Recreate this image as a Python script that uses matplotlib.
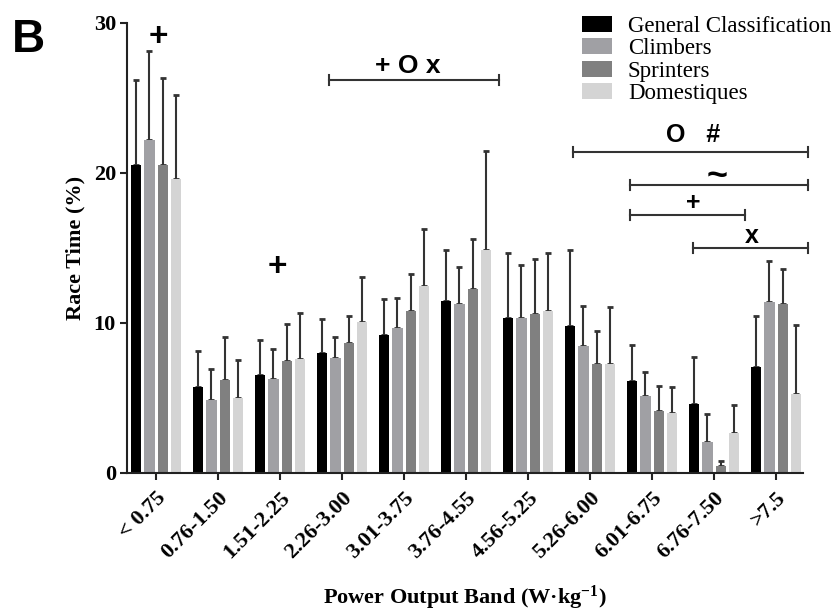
import numpy as np
import matplotlib.pyplot as plt
from matplotlib.patches import Patch

# Power output bands (x categories)
bands = ['< 0.75', '0.76-1.50', '1.51-2.25', '2.26-3.00', '3.01-3.75', '3.76-4.55',
         '4.56-5.25', '5.26-6.00', '6.01-6.75', '6.76-7.50', '>7.5']
groups = ['General Classification', 'Climbers', 'Sprinters', 'Domestiques']
colors = ['#000000', '#a0a0a4', '#808080', '#d4d4d4']

# mean race time (%) per band
gc_mean = [20.5, 5.75, 6.55, 7.98, 9.2, 11.49, 10.36, 9.82, 6.16, 4.58, 7.07]
climb_mean = [22.2, 4.87, 6.27, 7.64, 9.69, 11.27, 10.36, 8.47, 5.16, 2.04, 11.38]
sprint_mean = [20.5, 6.2, 7.49, 8.69, 10.8, 12.24, 10.6, 7.29, 4.16, 0.47, 11.27]
dom_mean = [19.6, 4.98, 7.62, 10.09, 12.47, 14.87, 10.78, 7.29, 4.02, 2.64, 5.27]

# standard deviations (upper error bars only)
gc_sd = [5.7, 2.4, 2.32, 2.29, 2.38, 3.38, 4.28, 5.05, 2.37, 3.18, 3.4]
climb_sd = [5.9, 2.06, 1.97, 1.41, 1.95, 2.49, 3.48, 2.69, 1.6, 1.89, 2.78]
sprint_sd = [5.8, 2.85, 2.47, 1.78, 2.47, 3.34, 3.69, 2.18, 1.66, 0.35, 2.31]
dom_sd = [5.6, 2.55, 3.05, 2.98, 3.8, 6.62, 3.91, 3.78, 1.71, 1.89, 4.6]

# significance brackets: (start band, end band, height, label)
bracket_start = [2.79, 6.73, 7.65, 7.65, 8.66]
bracket_end = [5.53, 10.52, 10.52, 9.5, 10.52]
bracket_y = [26.2, 21.4, 19.2, 17.2, 15.0]
bracket_labels = ['+ O x', 'O   #', '~', '+', 'x']
bracket_size = [19, 18, 26, 18, 18]
label_x = [4.06, 8.66, 9.05, 8.66, 9.61]
label_y = [27.15, 22.55, 19.75, 18.0, 15.8]

# loose symbols above single groups
single_x = [0.03, 1.95]
single_y = [29.0, 13.7]

serif = 'Liberation Serif'
sans = 'Liberation Sans'
plt.rcParams['mathtext.fontset'] = 'custom'
plt.rcParams['mathtext.rm'] = 'Liberation Serif:bold'
plt.rcParams['mathtext.bf'] = 'Liberation Serif:bold'
plt.rcParams['mathtext.it'] = 'Liberation Serif:italic:bold'

fig = plt.figure(figsize=(8.4, 6.13), dpi=100)
ax = fig.add_axes([0.1512, 0.2284, 0.8048, 0.7341])

means = [gc_mean, climb_mean, sprint_mean, dom_mean]
sds = [gc_sd, climb_sd, sprint_sd, dom_sd]
offsets = [-0.32, -0.107, 0.107, 0.32]
x = np.arange(len(bands))
width = 0.165

for m, s, off, c, name in zip(means, sds, offsets, colors, groups):
    ax.bar(x + off, m, width, color=c, label=name, zorder=2)
    ax.errorbar(x + off, m, yerr=[np.zeros(len(m)), s], fmt='none',
                ecolor='#333333', elinewidth=1.5, capsize=2, capthick=2, zorder=1)

ax.set_xlim(-0.468, 10.435)
ax.set_ylim(0, 30)
ax.set_yticks([0, 10, 20, 30])
ax.set_xticks(x)
ax.set_xticklabels(bands, rotation=45, ha='right', rotation_mode='anchor',
                   fontfamily=serif, fontweight='bold', fontsize=16)
for lab in ax.get_yticklabels():
    lab.set_fontfamily(serif)
    lab.set_fontweight('bold')
    lab.set_fontsize(16)

ax.tick_params(axis='both', direction='out', length=5, width=1.5, color='#222222')
ax.tick_params(axis='y', pad=3)
ax.tick_params(axis='x', pad=6)
for sp in ['top', 'right']:
    ax.spines[sp].set_visible(False)
for sp in ['left', 'bottom']:
    ax.spines[sp].set_linewidth(1.5)
    ax.spines[sp].set_color('#222222')

ax.set_ylabel('Race Time (%)', fontfamily=serif, fontweight='bold', fontsize=16, labelpad=6)
ax.set_xlabel('Power Output Band (W\u00b7kg$^{-1}$)', fontfamily=serif,
              fontweight='bold', fontsize=16, labelpad=15)

# brackets
for x0, x1, yb in zip(bracket_start, bracket_end, bracket_y):
    ax.plot([x0, x1], [yb, yb], color='#333333', lw=1.5, clip_on=False)
    for xe in (x0, x1):
        ax.plot([xe, xe], [yb - 0.35, yb + 0.35], color='#333333', lw=1.5, clip_on=False)
for t, tx, ty, fs in zip(bracket_labels, label_x, label_y, bracket_size):
    ax.text(tx, ty, t, ha='center', va='center', fontfamily=sans, fontweight='bold',
            fontsize=fs, clip_on=False)
for tx, ty in zip(single_x, single_y):
    ax.text(tx, ty, '+', ha='center', va='center', fontfamily=sans, fontweight='bold',
            fontsize=24, clip_on=False)

handles = [Patch(facecolor=c, edgecolor='none') for c in colors]
leg = fig.legend(handles, groups, loc='upper left', bbox_to_anchor=(582 / 840, 1 - 16 / 613),
                 frameon=False, borderpad=0, borderaxespad=0, handlelength=1.3,
                 handleheight=0.7, handletextpad=0.7, labelspacing=0.06,
                 prop={'family': serif, 'size': 16.5})

fig.text(28 / 840, 1 - 40 / 613, 'B', ha='center', va='center', fontfamily=sans,
         fontweight='bold', fontsize=33)

fig.savefig('out.png', dpi=100)
